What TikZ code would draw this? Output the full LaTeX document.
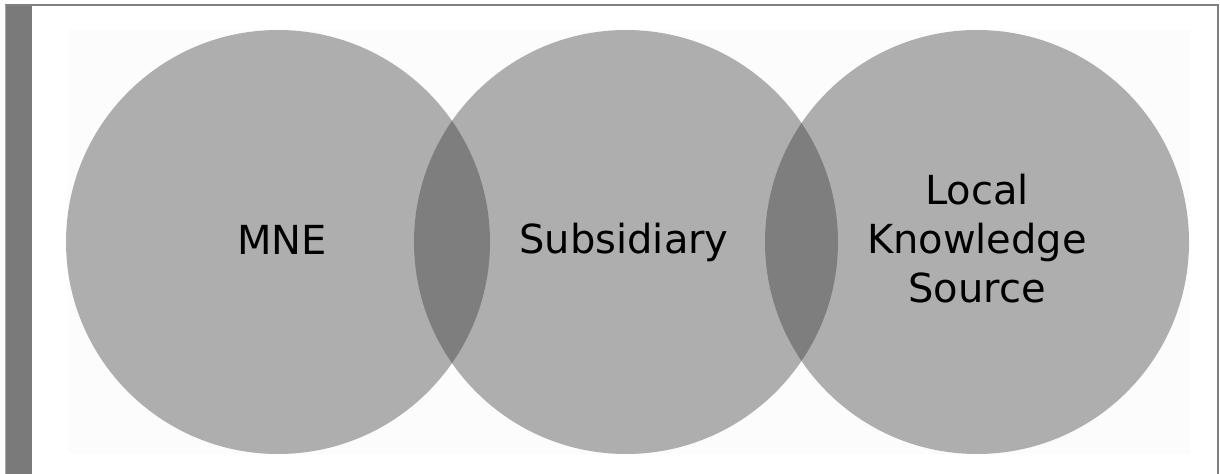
\documentclass[tikz,border=0pt]{standalone}
\usepackage{fontspec}
\setmainfont{DejaVu Sans}
\begin{document}
\begin{tikzpicture}[x=0.75pt,y=-0.75pt,
  venn/.style={fill=black!79,fill opacity=0.392,draw=none},
  lbl/.style={text=black,font=\fontsize{30}{36.75}\selectfont,align=center,inner sep=0pt}]
\useasboundingbox (0,0) rectangle (1220,474);
\fill[white] (0,0) rectangle (1220,474);
% frame
\fill[black!52] (5,4) rectangle (32,474);
\draw[black!50,line width=1.5pt] (5,5) -- (1218,5) -- (1218,474);
\draw[black!35,line width=0.75pt] (5,5) -- (5,474);
% faint background panel
\fill[black!1] (68,30) rectangle (1190,454);
% circles
\fill[venn] (278,242) circle (212);
\fill[venn] (626,242) circle (212);
\fill[venn] (977,242) circle (212);
% labels
\node[lbl,anchor=base] (mne) at (282,254) {MNE};
\node[lbl,anchor=base] (sub) at (624,253) {Subsidiary};
\node[lbl,anchor=center] (lks) at (977,239) {Local\\Knowledge\\Source};
\end{tikzpicture}
\end{document}
